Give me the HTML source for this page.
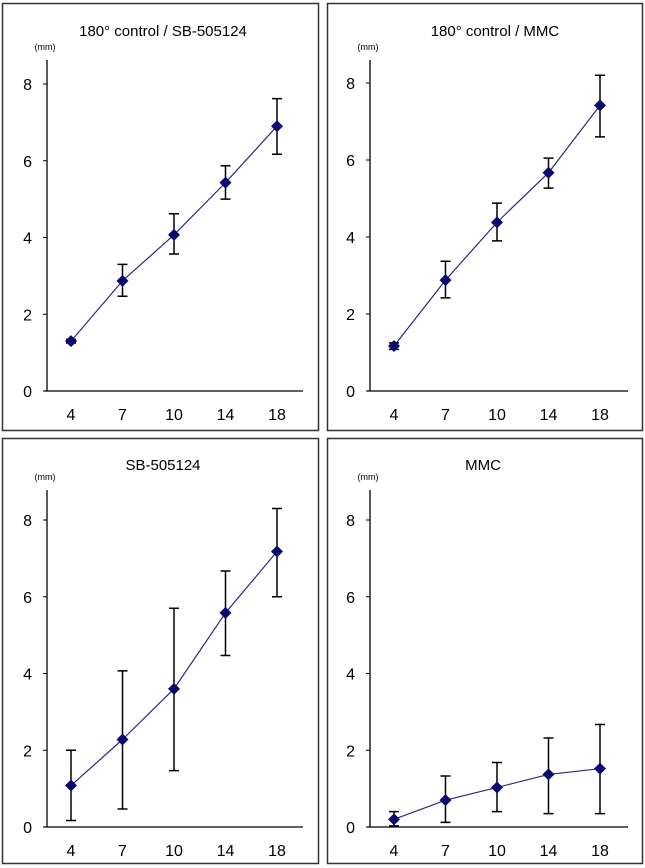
<!DOCTYPE html>
<html><head><meta charset="utf-8"><style>
html,body{margin:0;padding:0;background:#fff;width:645px;height:868px;overflow:hidden}
svg text{font-family:"Liberation Sans",sans-serif;fill:#000}
</style></head><body>
<svg id="fig" width="645" height="868" viewBox="0 0 645 868" xmlns="http://www.w3.org/2000/svg"></svg>
<script>
const categories = ["4","7","10","14","18"];
const yTicks = [0,2,4,6,8];
const titles = ["180° control / SB-505124","180° control / MMC","SB-505124","MMC"];
const meanTL = [1.3,2.87,4.07,5.43,6.9];
const hiTL = [1.35,3.3,4.62,5.87,7.62];
const loTL = [1.25,2.47,3.57,5.0,6.17];
const meanTR = [1.17,2.88,4.38,5.67,7.42];
const hiTR = [1.25,3.37,4.88,6.05,8.2];
const loTR = [1.08,2.42,3.9,5.27,6.6];
const meanBL = [1.08,2.28,3.6,5.58,7.18];
const hiBL = [2.0,4.07,5.7,6.67,8.3];
const loBL = [0.17,0.47,1.47,4.47,6.0];
const meanBR = [0.2,0.7,1.03,1.37,1.52];
const hiBR = [0.4,1.33,1.68,2.32,2.67];
const loBR = [0.03,0.12,0.4,0.35,0.35];

const NS="http://www.w3.org/2000/svg";
const svg=document.getElementById('fig');
function mk(tag,attrs,parent){const e=document.createElementNS(NS,tag);for(const k in attrs)e.setAttribute(k,attrs[k]);(parent||svg).appendChild(e);return e;}

const panels=[
 {box:[2,3,316,427],ax:47,y0:391,y8:84,top:60,right:303,tx:163,ty:36,mean:meanTL,hi:hiTL,lo:loTL,name:'panel-control-sb505124'},
 {box:[327,3,315,427],ax:370,y0:391,y8:83,top:60,right:628,tx:495,ty:36,mean:meanTR,hi:hiTR,lo:loTR,name:'panel-control-mmc'},
 {box:[2,438,316,425],ax:47,y0:827,y8:520,top:490,right:303,tx:163,ty:470,mean:meanBL,hi:hiBL,lo:loBL,name:'panel-sb505124'},
 {box:[327,438,315,425],ax:370,y0:827,y8:520,top:490,right:628,tx:483,ty:470,mean:meanBR,hi:hiBR,lo:loBR,name:'panel-mmc'}
];
panels.forEach((p,pi)=>{
  const g=mk('g',{});
  
  
  const r=mk('rect',{x:p.box[0]+0.5,y:p.box[1]+0.5,width:p.box[2],height:p.box[3],fill:'#fff',stroke:'#333','stroke-width':1.5},g);
  
  
  const yS=v=>p.y0-(p.y0-p.y8)*v/8;
  const x0=p.ax+24, step=51.5;
  const xS=i=>x0+i*step;
  const t=mk('text',{x:p.tx,y:p.ty,'font-size':15,'text-anchor':'middle'},g);
  t.textContent=titles[pi];
  
  
  const u=mk('text',{x:p.ax-2,y:p.top-10,'font-size':9,'text-anchor':'middle',fill:'#333'},g);
  u.textContent='(mm)';
  
  
  const ya=mk('line',{x1:p.ax,y1:p.top,x2:p.ax,y2:p.y0,stroke:'#000','stroke-width':1.3},g);
  
  
  const xa=mk('line',{x1:p.ax-3,y1:p.y0,x2:p.right,y2:p.y0,stroke:'#000','stroke-width':1.3},g);
  
  
  yTicks.forEach(v=>{
    mk('line',{x1:p.ax-4,y1:yS(v),x2:p.ax,y2:yS(v),stroke:'#000'},g);
    const tl=mk('text',{x:p.ax-15,y:yS(v)+6,'font-size':16,'text-anchor':'end'},g);
    tl.textContent=v;
    
    
  });
  categories.forEach((c,i)=>{
    const tl=mk('text',{x:xS(i),y:p.y0+29,'font-size':16,'text-anchor':'middle'},g);
    tl.textContent=c;
    
    
  });
  const pts=p.mean.map((v,i)=>xS(i)+','+yS(v)).join(' ');
  const pl=mk('polyline',{points:pts,fill:'none',stroke:'#2a2a80','stroke-width':1.2},g);
  
  
  p.mean.forEach((v,i)=>{
    const x=xS(i);
    const eb=mk('path',{d:`M${x},${yS(p.hi[i])}V${yS(p.lo[i])}M${x-5},${yS(p.hi[i])}H${x+5}M${x-5},${yS(p.lo[i])}H${x+5}`,stroke:'#000','stroke-width':1.5,fill:'none'},g);
    
    
    const y=yS(v);
    const m=mk('path',{d:`M${x},${y-6}L${x+6},${y}L${x},${y+6}L${x-6},${y}Z`,fill:'#0a0a6e'},g);
    
    
  });
});
</script>
</body></html>
